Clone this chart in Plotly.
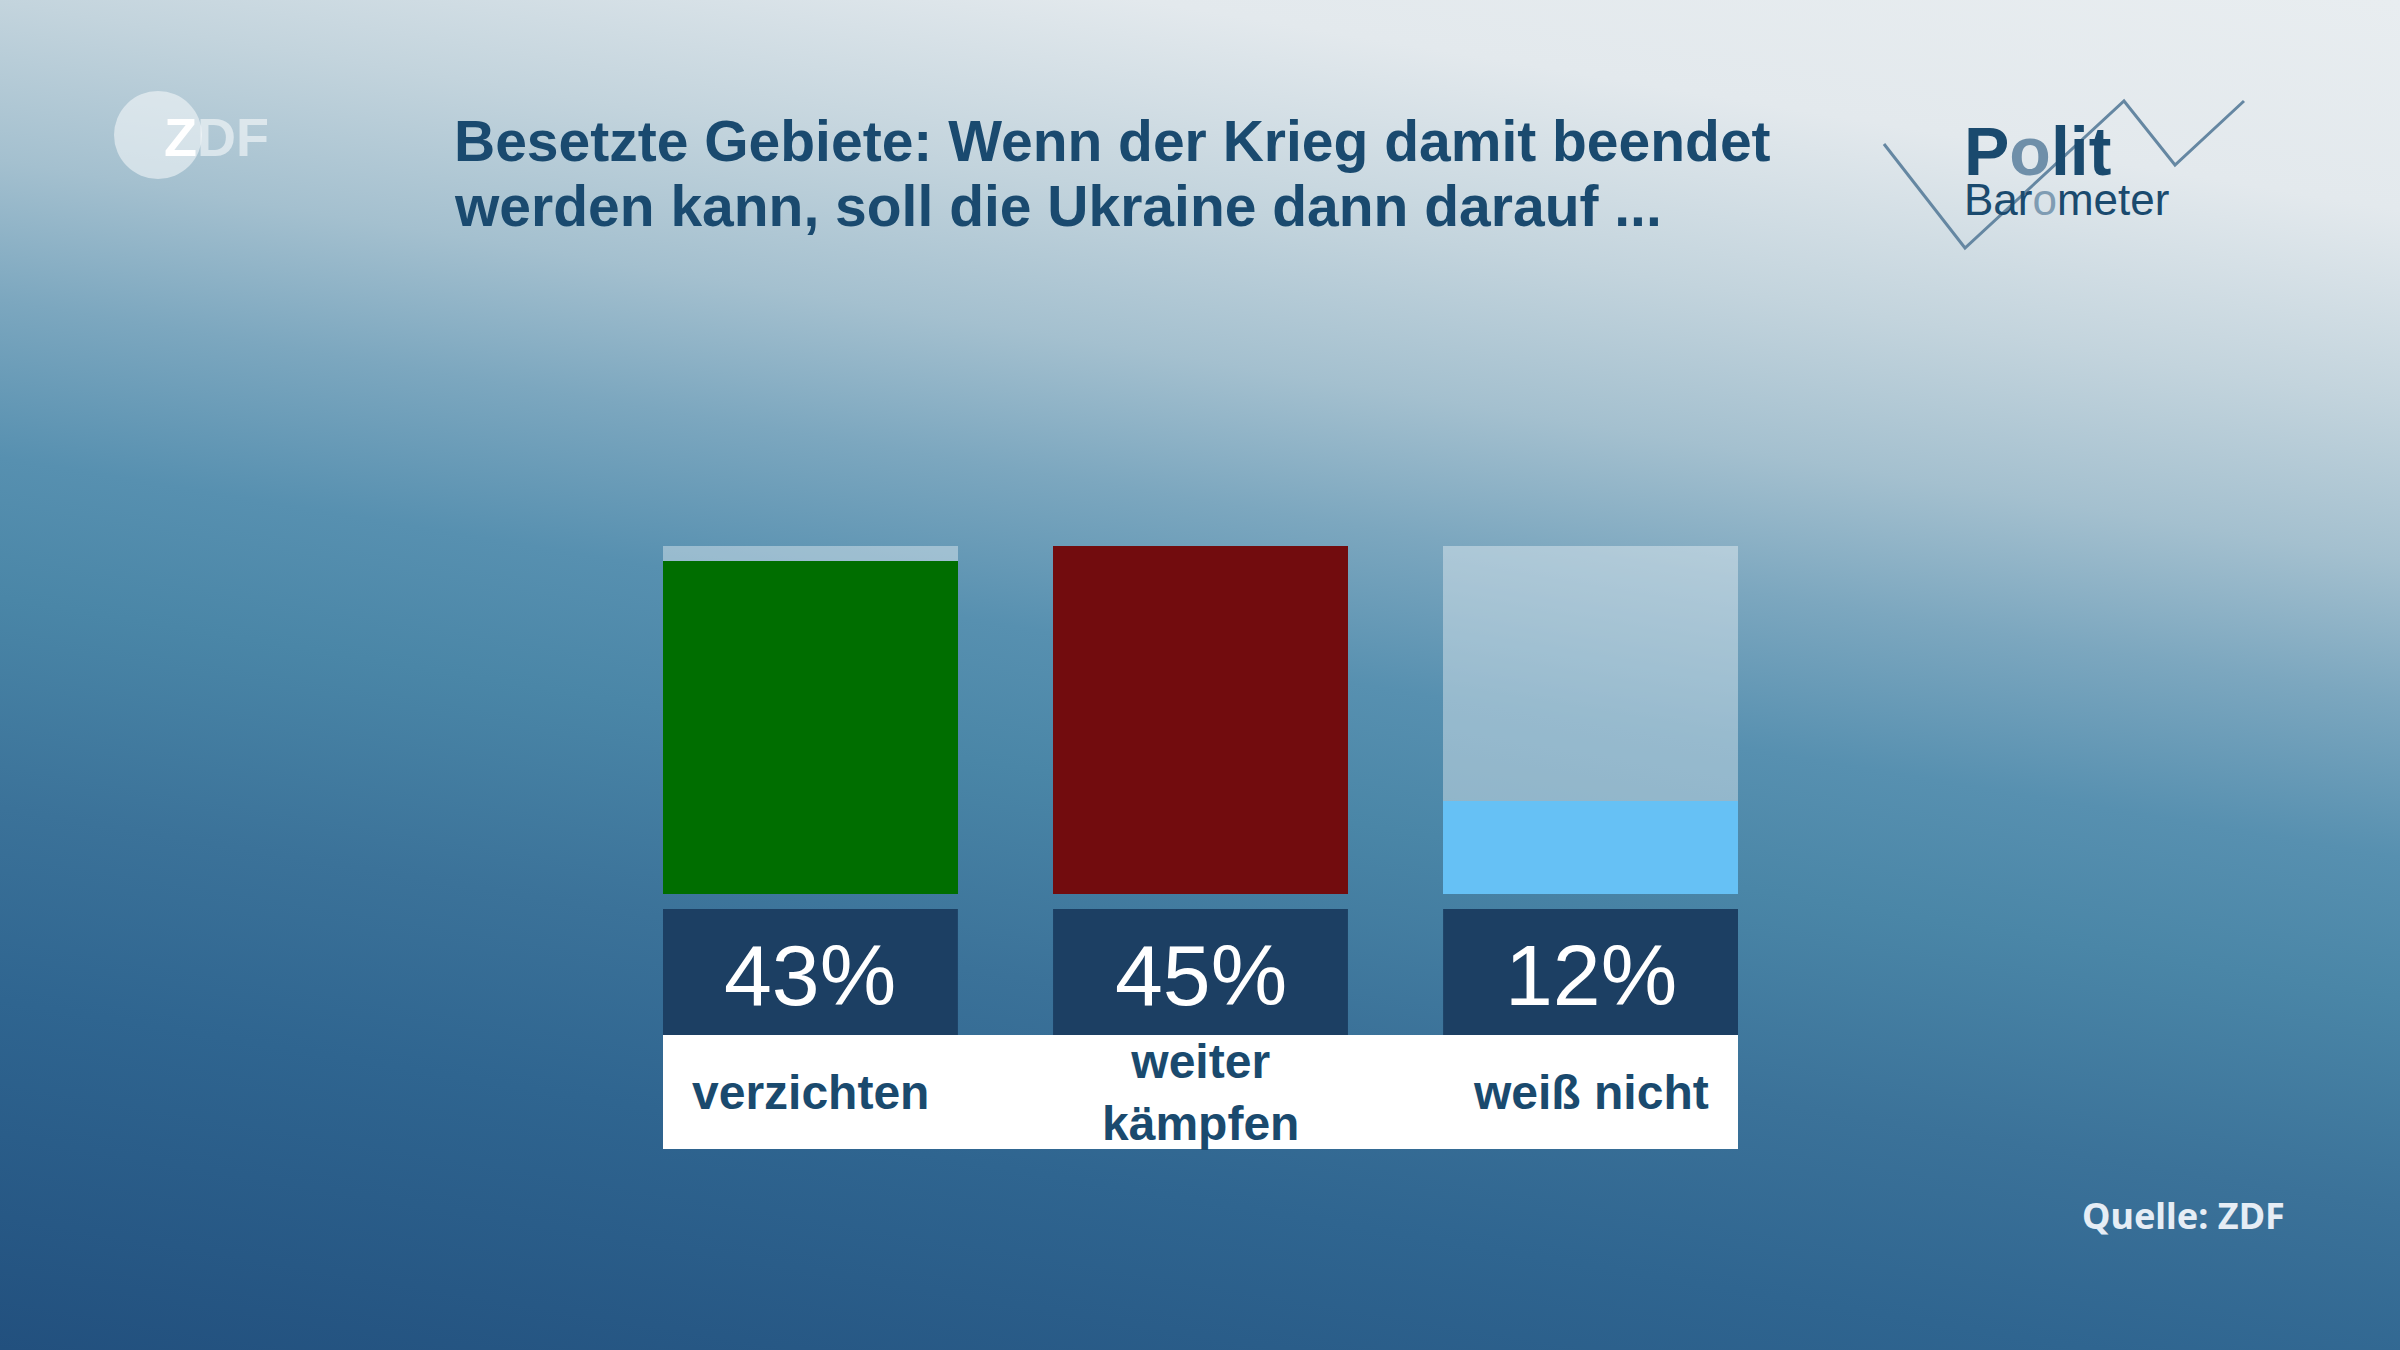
import base64
import math
import plotly.graph_objects as go

# ---------------- data ----------------
categories = ["verzichten", "weiter<br>kämpfen", "weiß nicht"]
values = [43, 45, 12]
value_labels = ["43%", "45%", "12%"]
bar_colors = ["#006e00", "#720c0e", "#66c1f5"]
title_lines = ["Besetzte Gebiete: Wenn der Krieg damit beendet",
               "werden kann, soll die Ukraine dann darauf ..."]
source_text = "Quelle: ZDF"

W, H = 2400, 1350
scale_max = max(values)
half_w = 0.378  # half bar width in category units

# ---------------- background gradient (SVG) ----------------
theta = math.atan(1 / 6)
s, c = math.sin(theta), math.cos(theta)
L = H * c + W * s
cx, cy = W / 2, H / 2
x1, y1 = cx + (L / 2) * s, cy - (L / 2) * c
x2, y2 = cx - (L / 2) * s, cy + (L / 2) * c
stops = [
    (0.00, "#e8edf0"), (0.12, "#e3e9ed"), (0.23, "#c3d4dd"), (0.32, "#a4c0cf"),
    (0.40, "#7ca7bf"), (0.49, "#5790b0"), (0.57, "#4a86a7"), (0.69, "#3b7299"),
    (0.80, "#2f6590"), (1.00, "#22507e"),
]
stop_xml = "".join(f'<stop offset="{o}" stop-color="{col}"/>' for o, col in stops)
svg = (
    f'<svg xmlns="http://www.w3.org/2000/svg" width="{W}" height="{H}" '
    f'viewBox="0 0 {W} {H}" preserveAspectRatio="none">'
    f'<defs><linearGradient id="g" gradientUnits="userSpaceOnUse" '
    f'x1="{x1:.1f}" y1="{y1:.1f}" x2="{x2:.1f}" y2="{y2:.1f}">{stop_xml}</linearGradient></defs>'
    f'<rect x="0" y="0" width="{W}" height="{H}" fill="url(#g)"/></svg>'
)
bg_uri = "data:image/svg+xml;base64," + base64.b64encode(svg.encode()).decode()


def py(pix):
    return 1 - pix / H


def px(pix):
    return pix / W


x_idx = list(range(len(categories)))

fig = go.Figure()
# track (full-scale background bar)
fig.add_trace(go.Bar(
    x=x_idx, y=[scale_max] * len(values), width=2 * half_w,
    marker=dict(color="rgba(255,255,255,0.38)", line=dict(width=0)),
    hoverinfo="skip", showlegend=False,
))
# value bars
fig.add_trace(go.Bar(
    x=x_idx, y=values, width=2 * half_w,
    marker=dict(color=bar_colors, line=dict(width=0)),
    hoverinfo="skip", showlegend=False,
))

shapes = []
annotations = []

# dark value boxes and white label band
for i, lab in enumerate(value_labels):
    shapes.append(dict(type="rect", xref="x", yref="paper",
                       x0=i - half_w, x1=i + half_w, y0=py(1035), y1=py(909),
                       fillcolor="#1c3f63", line=dict(width=0), layer="above"))
    annotations.append(dict(x=i, y=py(975), xref="x", yref="paper", text=lab,
                            showarrow=False, xanchor="center", yanchor="middle",
                            font=dict(family="Liberation Sans, Arial, sans-serif",
                                      size=86, color="#ffffff")))
shapes.append(dict(type="rect", xref="x", yref="paper",
                   x0=-half_w, x1=len(categories) - 1 + half_w, y0=py(1149), y1=py(1035),
                   fillcolor="#ffffff", line=dict(width=0), layer="above"))
for i, cat in enumerate(categories):
    annotations.append(dict(x=i, y=py(1092), xref="x", yref="paper", text=f"<b>{cat}</b>",
                            showarrow=False, xanchor="center", yanchor="middle",
                            font=dict(family="Liberation Sans, Arial, sans-serif",
                                      size=48, color="#1a4a6e")))

# title (two lines placed separately for exact line spacing)
for line, ypix in zip(title_lines, [141, 206]):
    annotations.append(dict(x=px(452), y=py(ypix), xref="paper", yref="paper",
                            text=f"<b>{line}</b>", showarrow=False, align="left",
                            xanchor="left", yanchor="middle",
                            font=dict(family="Liberation Sans, Arial, sans-serif",
                                      size=57, color="#1a4a6f")))

# source
annotations.append(dict(x=px(2287), y=py(1215), xref="paper", yref="paper",
                        text=f"<b>{source_text}</b>", showarrow=False,
                        xanchor="right", yanchor="middle",
                        font=dict(family="Noto Sans, sans-serif", size=36, color="#e6edf5")))

# ZDF logo
shapes.append(dict(type="circle", xref="paper", yref="paper",
                   x0=px(114), x1=px(202), y0=py(179), y1=py(91),
                   fillcolor="rgba(255,255,255,0.5)", line=dict(width=0)))
annotations.append(dict(x=px(162), y=py(137), xref="paper", yref="paper",
                        text="<b>Z<span style='color:rgba(255,255,255,0.55)'>DF</span></b>",
                        showarrow=False, xanchor="left", yanchor="middle",
                        font=dict(family="Liberation Sans, Arial, sans-serif", size=54,
                                  color="#ffffff")))

# Politbarometer logo
zig = [(1884, 144), (1965, 248), (2124, 101), (2175, 165), (2244, 101)]
path = "M " + " L ".join(f"{px(a):.5f},{py(b):.5f}" for a, b in zig)
shapes.append(dict(type="path", xref="paper", yref="paper", path=path,
                   line=dict(color="#6587a2", width=3)))
logo_text = ("<span style='font-size:68px'><b>P<span style='color:#6f8fa9'>o</span>lit</b></span>"
             "<br><span style='font-size:44px'>Bar<span style='color:#7f9cb3'>o</span>meter</span>")
annotations.append(dict(x=px(1962), y=py(168), xref="paper", yref="paper",
                        text=logo_text, showarrow=False, align="left",
                        xanchor="left", yanchor="middle",
                        font=dict(family="Liberation Sans, Arial, sans-serif", size=31,
                                  color="#1a4a6e")))

fig.update_layout(
    width=W, height=H,
    margin=dict(l=0, r=0, t=0, b=0),
    paper_bgcolor="#5a8fb0",
    plot_bgcolor="rgba(0,0,0,0)",
    barmode="overlay",
    bargap=0,
    showlegend=False,
    xaxis=dict(domain=[px(663), px(1738)], range=[-half_w, len(categories) - 1 + half_w],
               visible=False, fixedrange=True),
    yaxis=dict(domain=[py(894), py(546)], range=[0, scale_max],
               visible=False, fixedrange=True),
    shapes=shapes,
    annotations=annotations,
    images=[dict(source=bg_uri, xref="paper", yref="paper", x=0, y=1,
                 sizex=1, sizey=1, sizing="stretch", xanchor="left", yanchor="top",
                 layer="below")],
)

fig.write_html("out.html", config={"displayModeBar": False})
